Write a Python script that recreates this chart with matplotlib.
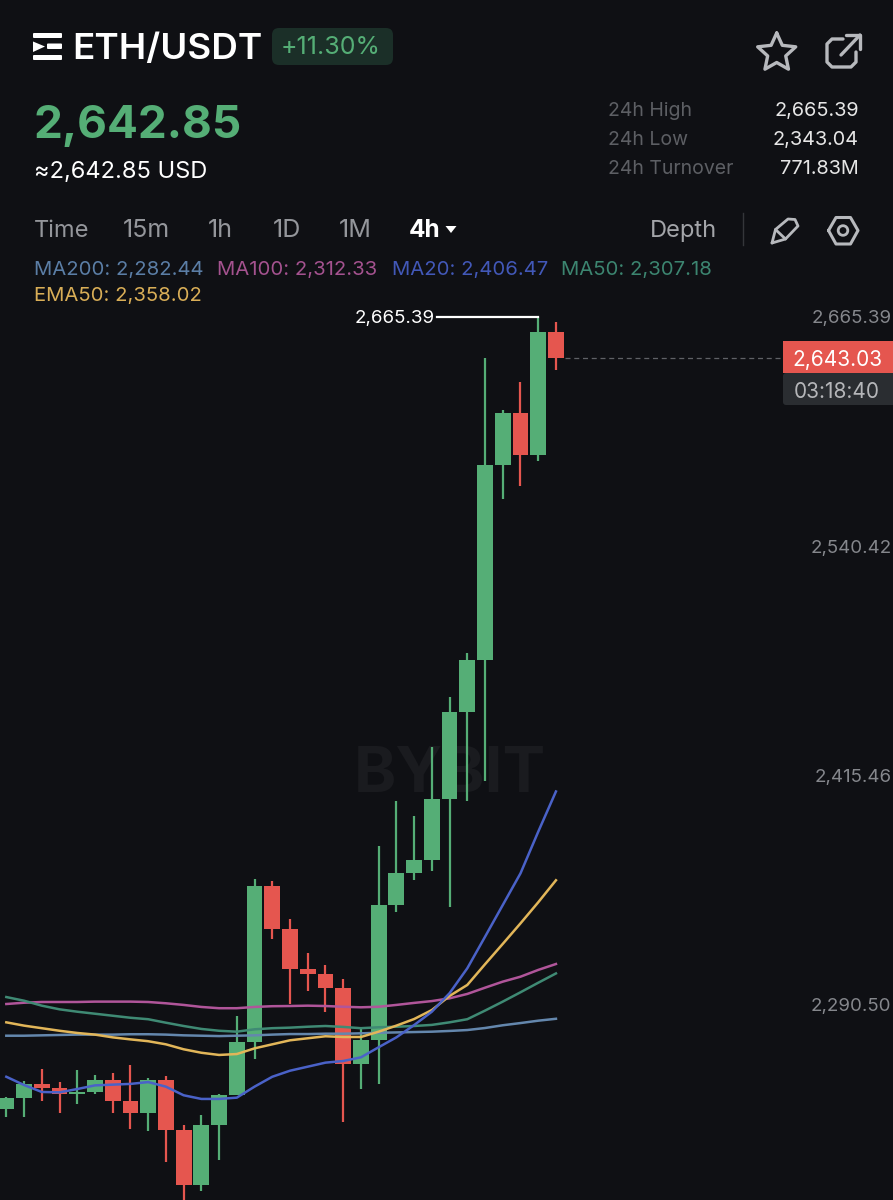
import matplotlib
matplotlib.use("Agg")  # headless
import matplotlib.pyplot as plt
from matplotlib.patches import Circle, FancyBboxPatch, Polygon, Rectangle
import numpy as np

plt.rcParams["font.family"] = ["Inter", "DejaVu Sans"]

BG = "#0f1014"
GREEN = "#55ae76"
RED = "#e5564f"

# candles, oldest first
opens = [2233.2, 2239.1, 2246.9, 2244.8, 2241.2, 2242.7, 2249.2, 2237.4, 2231.2, 2248.9, 2221.9, 2191.6,
         2224.3, 2240.7, 2269.9, 2354.7, 2331.2, 2309.6, 2306.7, 2299.4, 2257.6, 2271.0, 2344.5, 2361.8,
         2368.9, 2402.5, 2449.7, 2478.1, 2584.5, 2613.0, 2589.9, 2657.4]
closes = [2239.1, 2246.7, 2244.8, 2241.2, 2242.7, 2249.2, 2237.4, 2231.2, 2248.9, 2221.9, 2191.6, 2224.3,
          2240.7, 2269.9, 2354.7, 2331.2, 2309.6, 2306.7, 2299.4, 2257.6, 2271.0, 2344.5, 2361.8, 2368.9,
          2402.5, 2449.7, 2478.1, 2584.5, 2613.0, 2589.9, 2657.4, 2643.03]
highs = [2239.6, 2248.5, 2254.9, 2247.8, 2254.3, 2251.8, 2252.9, 2257.4, 2250.0, 2251.4, 2224.7, 2230.1,
         2241.6, 2284.0, 2358.6, 2357.8, 2337.1, 2318.5, 2311.6, 2304.3, 2277.8, 2376.6, 2401.1, 2393.3,
         2430.9, 2458.0, 2482.2, 2643.2, 2614.8, 2630.1, 2665.39, 2662.5]
lows = [2229.0, 2228.7, 2237.7, 2230.9, 2235.8, 2241.6, 2231.0, 2222.5, 2221.0, 2204.5, 2180.8, 2188.5,
        2205.2, 2240.7, 2260.5, 2326.1, 2290.3, 2297.8, 2286.0, 2226.1, 2244.0, 2246.9, 2340.9, 2358.0,
        2363.1, 2343.4, 2401.4, 2412.4, 2566.1, 2573.3, 2587.0, 2636.3]

ma200 = [2273.2, 2273.2, 2273.4, 2273.6, 2273.8, 2273.8, 2273.8, 2274.0, 2274.0, 2273.8, 2273.4, 2273.2,
         2273.0, 2273.2, 2273.4, 2273.8, 2274.1, 2274.1, 2274.3, 2274.3, 2274.5, 2274.8, 2275.0, 2275.2,
         2275.4, 2275.8, 2276.3, 2277.4, 2278.9, 2280.1, 2281.4, 2282.44]
ma100 = [2290.5, 2291.2, 2291.6, 2291.6, 2291.6, 2291.8, 2291.8, 2291.8, 2291.6, 2290.9, 2290.0, 2288.9,
         2288.2, 2288.2, 2288.9, 2289.3, 2289.4, 2289.6, 2289.4, 2289.0, 2288.7, 2289.0, 2290.0, 2291.1,
         2292.1, 2293.6, 2296.0, 2299.4, 2302.7, 2305.4, 2309.1, 2312.33]
ma50 = [2294.3, 2292.3, 2289.6, 2287.6, 2286.3, 2285.2, 2284.1, 2283.0, 2282.2, 2280.3, 2278.5, 2276.9,
        2275.9, 2275.4, 2276.7, 2277.3, 2277.6, 2278.1, 2278.5, 2278.0, 2277.3, 2277.8, 2278.1, 2278.5,
        2279.1, 2280.5, 2282.2, 2286.9, 2291.8, 2296.9, 2302.1, 2307.18]
ma20 = [2250.8, 2246.3, 2242.5, 2242.3, 2244.1, 2246.1, 2246.5, 2246.9, 2247.9, 2245.4, 2240.7, 2238.7,
        2238.7, 2239.4, 2245.4, 2250.8, 2254.1, 2256.3, 2258.5, 2259.4, 2261.4, 2266.9, 2272.3, 2279.0,
        2286.3, 2296.4, 2310.0, 2327.2, 2344.5, 2361.8, 2384.5, 2406.47]
ema50 = [2280.5, 2278.7, 2277.3, 2275.9, 2274.7, 2273.8, 2272.3, 2271.2, 2270.2, 2268.5, 2265.8, 2263.9,
         2262.7, 2263.2, 2266.3, 2268.5, 2270.7, 2271.8, 2272.9, 2272.5, 2272.5, 2275.4, 2278.7, 2282.3,
         2287.2, 2294.9, 2300.9, 2312.2, 2323.3, 2334.5, 2346.0, 2358.02]

price_ticks = [2665.39, 2540.42, 2415.46, 2290.50]
last_price = 2643.03
periods = ["15m", "1h", "1D", "1M"]
stat_names = ["24h High", "24h Low", "24h Turnover"]
stat_values = ["2,665.39", "2,343.04", "771.83M"]

fig = plt.figure(figsize=(8.93, 12), dpi=100, facecolor=BG)

# chart layer, scales chosen so the price ticks land where the app has them
ax = fig.add_axes([0, 0, 1, 1], facecolor=BG)
ax.set_xlim(-0.356, 50.01)
ax.set_ylim(2183.55, 2838.37)
for s in ax.spines.values():
    s.set_visible(False)
ax.set_xticks([])
ax.set_yticks(price_ticks, [f"{p:,.2f}" for p in price_ticks])
ax.tick_params(axis="y", left=False, right=False, labelleft=False, labelright=True,
               pad=-4.5, labelsize=13.5, labelcolor="#85878c")
for t in ax.get_yticklabels():
    t.set_ha("right")

ax.text(25.0, 2415, "BYBIT", color="#1a1b1f", fontsize=46, fontweight="bold",
        ha="center", va="center", zorder=1)

x = np.arange(len(opens))
colors = [GREEN if c >= o else RED for o, c in zip(opens, closes)]
ax.vlines(x, lows, highs, colors=colors, linewidth=1.6, zorder=2)
ax.bar(x, np.abs(np.array(closes) - np.array(opens)), bottom=np.minimum(opens, closes),
       width=0.89, color=colors, zorder=3)

for vals, col in ((ma200, "#6487ad"), (ma100, "#b0559a"), (ma50, "#3f8a74"),
                  (ema50, "#e2b659"), (ma20, "#4a62c8")):
    ax.plot(x, vals, color=col, linewidth=1.8, zorder=4)

# high marker and last price guide
hi_i = int(np.argmax(highs))
ax.plot([hi_i - 5.7, hi_i], [highs[hi_i]] * 2, color="white", linewidth=1.6, zorder=5)
ax.text(hi_i - 5.85, highs[hi_i], f"{highs[hi_i]:,.2f}", color="white", fontsize=13.5,
        ha="right", va="center_baseline")
ax.plot([x[-1] + 0.5, 43.9], [last_price] * 2, color="#5f6166", linewidth=0.9,
        dashes=(4, 3), zorder=2)

# app chrome, in pixel coordinates
ui = fig.add_axes([0, 0, 1, 1], facecolor="none")
ui.set_xlim(0, 893)
ui.set_ylim(1200, 0)
ui.axis("off")


def label(px, py, s, color, size, **kwargs):
    kwargs.setdefault("va", "baseline")
    ui.text(px, py, s, color=color, fontsize=size, **kwargs)


def icon_line(points, lw=2.2, color="#b7b9bd"):
    pts = np.array(points)
    ui.plot(pts[:, 0], pts[:, 1], color=color, linewidth=lw, solid_capstyle="round",
            solid_joinstyle="round")


# logo
for y0, y1, x0 in ((33, 38, 33), (43.5, 49, 47), (55, 60, 33)):
    ui.add_patch(FancyBboxPatch((x0 + 1, y0 + 1), 62 - x0 - 2, y1 - y0 - 2,
                                boxstyle="round,pad=1", fc="white", ec="none"))
ui.add_patch(Polygon([(33, 41.5), (45, 46.5), (33, 52)], fc="white", ec="none"))

label(72, 59, "ETH/USDT", "white", 26.5, fontweight="semibold")
ui.add_patch(FancyBboxPatch((279, 35), 107, 23, boxstyle="round,pad=7", fc="#1b2f28", ec="none"))
label(281, 54, "+11.30%", GREEN, 18)
label(33.5, 138, "2,642.85", GREEN, 33, fontweight="bold")
label(34, 178, "≈2,642.85 USD", "white", 17)

# star and share
ang = np.deg2rad(np.arange(0, 361, 36) - 90)
rad = np.where(np.arange(11) % 2 == 0, 20, 9.5)
icon_line(np.column_stack((776.7 + rad * np.cos(ang), 53 + rad * np.sin(ang))), lw=2.4)
icon_line([(843, 39), (832, 39), (827, 44), (827, 62), (832, 67), (851, 67), (856, 62), (856, 52)], lw=2.4)
icon_line([(841, 55), (860, 35)], lw=2.4)
icon_line([(846, 34.5), (860, 34.5), (860, 49)], lw=2.4)

for name, val, py in zip(stat_names, stat_values, (116, 145, 174)):
    label(608, py, name, "#5d5f64", 14)
    label(859, py, val, "#e6e6e6", 14.3, ha="right")

label(34, 237, "Time", "#94969b", 17)
for name, px in zip(periods, (123, 208, 273, 339)):
    label(px, 237, name, "#94969b", 18)
label(409, 237, "4h", "white", 17.5, fontweight="bold")
ui.add_patch(Polygon([(445.5, 226), (456.5, 226), (451, 233)], fc="white", ec="none"))
label(650, 237, "Depth", "#a3a5a9", 17)
ui.plot([743, 743], [213, 245], color="#34363a", linewidth=1)

# pencil and settings
icon_line([(772, 243), (775.5, 229.5), (788, 219), (795, 219.5), (798, 226), (785.5, 239), (772, 243)], lw=2)
icon_line([(775.5, 229.5), (785.5, 239)], lw=2)
icon_line([(828.5, 230.5), (836, 217.5), (850.5, 217.5), (858, 230.5), (850.5, 244), (836, 244), (828.5, 230.5)], lw=2.2)
ui.add_patch(Circle((843, 230.5), 4.8, fc="none", ec="#b7b9bd", lw=2))

label(34, 275, "MA200: 2,282.44", "#5b7ea6", 14.6)
label(217, 275, "MA100: 2,312.33", "#a4528f", 14.6)
label(392, 275, "MA20: 2,406.47", "#4258b8", 14.6)
label(561, 275, "MA50: 2,307.18", "#3c8570", 14.6)
label(34, 301, "EMA50: 2,358.02", "#d9ae57", 14.6)

# last price tag and countdown
ui.add_patch(Rectangle((783, 341), 110, 32, fc=RED, ec="none"))
ui.add_patch(FancyBboxPatch((786, 376), 110, 26, boxstyle="round,pad=3", fc="#2a2d31", ec="none"))
label(837, 366, f"{last_price:,.2f}", "white", 15, ha="center")
label(837, 398, "03:18:40", "#b5b6b9", 15, ha="center")

fig.savefig("out.png", dpi=100, facecolor=BG)
